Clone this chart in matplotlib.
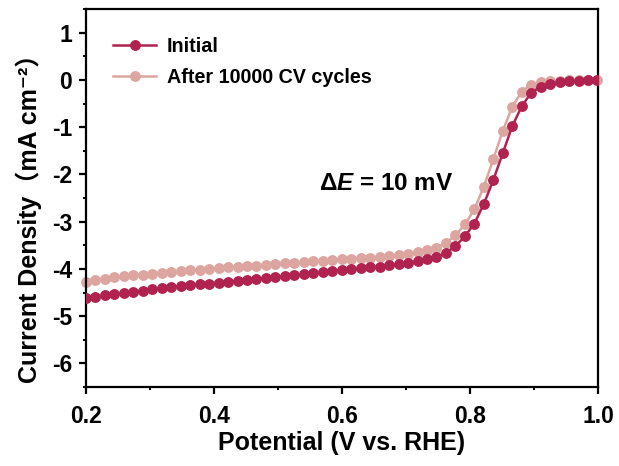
import matplotlib
matplotlib.use("Agg")
import matplotlib.pyplot as plt
from matplotlib.ticker import MultipleLocator

plt.rcParams['font.family'] = ['Liberation Sans', 'Noto Sans CJK SC', 'DejaVu Sans']
plt.rcParams['font.weight'] = 'bold'
plt.rcParams['mathtext.fontset'] = 'custom'
plt.rcParams['mathtext.rm'] = 'Liberation Sans:bold'
plt.rcParams['mathtext.it'] = 'Liberation Sans:bold:italic'
plt.rcParams['mathtext.bf'] = 'Liberation Sans:bold'

potential = [0.2000, 0.2148, 0.2296, 0.2444, 0.2592, 0.2740, 0.2888, 0.3036, 0.3184, 0.3332,
             0.3480, 0.3628, 0.3776, 0.3924, 0.4072, 0.4220, 0.4368, 0.4516, 0.4664, 0.4812,
             0.4960, 0.5108, 0.5256, 0.5404, 0.5552, 0.5700, 0.5848, 0.5996, 0.6144, 0.6292,
             0.6440, 0.6588, 0.6736, 0.6884, 0.7032, 0.7180, 0.7328, 0.7476, 0.7624, 0.7772,
             0.7920, 0.8068, 0.8216, 0.8364, 0.8512, 0.8660, 0.8808, 0.8956, 0.9104, 0.9252,
             0.9400, 0.9548, 0.9696, 0.9844, 0.9992]

initial = [-4.62, -4.59, -4.56, -4.53, -4.51, -4.48, -4.46, -4.43, -4.41, -4.39,
           -4.37, -4.35, -4.33, -4.31, -4.29, -4.27, -4.25, -4.23, -4.21, -4.19,
           -4.17, -4.15, -4.13, -4.11, -4.09, -4.07, -4.05, -4.03, -4.01, -3.99,
           -3.97, -3.95, -3.92, -3.90, -3.87, -3.84, -3.80, -3.74, -3.66, -3.52,
           -3.31, -3.04, -2.63, -2.12, -1.55, -0.98, -0.56, -0.27, -0.15, -0.09,
           -0.05, -0.03, -0.02, -0.01, 0.00]

after = [-4.28, -4.24, -4.21, -4.18, -4.16, -4.14, -4.12, -4.10, -4.08, -4.06,
         -4.05, -4.03, -4.02, -4.00, -3.99, -3.97, -3.96, -3.94, -3.93, -3.91,
         -3.90, -3.88, -3.87, -3.86, -3.84, -3.83, -3.81, -3.80, -3.79, -3.77,
         -3.76, -3.74, -3.72, -3.70, -3.68, -3.65, -3.61, -3.55, -3.45, -3.29,
         -3.06, -2.74, -2.26, -1.68, -1.08, -0.57, -0.25, -0.10, -0.05, -0.03,
         -0.02, -0.01, 0.00, 0.00, 0.00]

labels = ["Initial", "After 10000 CV cycles"]
colors = ["#B0224F", "#DCA5A0"]
xticks = [0.2, 0.4, 0.6, 0.8, 1.0]
xticklabels = ["0.2", "0.4", "0.6", "0.8", "1.0"]
yticks = [1, 0, -1, -2, -3, -4, -5, -6]
yticklabels = ["1", "0", "-1", "-2", "-3", "-4", "-5", "-6"]

fig = plt.figure(figsize=(6.19, 4.66), dpi=100)
ax = fig.add_axes([86/619, 79/466, (598-86)/619, (387-9)/466])

ax.plot(potential, initial, '-o', color=colors[0], lw=1.8, ms=6.8, label=labels[0], zorder=3)
ax.plot(potential, after, '-o', color=colors[1], lw=1.8, ms=6.8, label=labels[1], clip_on=False, zorder=2)

ax.set_xlim(0.2, 1.0)
ax.set_ylim(-6.5, 1.5)
ax.xaxis.set_minor_locator(MultipleLocator(0.1))
ax.yaxis.set_minor_locator(MultipleLocator(0.5))
ax.set_xticks(xticks)
ax.set_xticklabels(xticklabels)
ax.set_yticks(yticks)
ax.set_yticklabels(yticklabels)

for s in ax.spines.values():
    s.set_linewidth(1.6)
ax.tick_params(which='major', direction='out', length=5, width=1.6, labelsize=16.5)
ax.tick_params(axis='x', which='major', pad=8)
ax.tick_params(axis='y', which='major', pad=5)
ax.tick_params(which='minor', direction='out', length=2.5, width=1.4)
for lab in ax.get_xticklabels() + ax.get_yticklabels():
    lab.set_fontweight('bold')

ax.set_xlabel("Potential (V vs. RHE)", fontsize=18, fontweight='bold', labelpad=2)
ax.set_ylabel("Current Density（mA cm⁻²）", fontsize=18, fontweight='bold',
              family=['Liberation Sans', 'Noto Sans CJK SC', 'DejaVu Sans'])
ax.yaxis.set_label_coords(-0.086, 0.463)

ax.text(0.564, -2.2, r"$\Delta\mathit{E}$ = 10 mV", fontsize=17.5, fontweight='bold', va='center', ha='left')

leg = ax.legend(loc='upper left', bbox_to_anchor=(0.037, 0.948), frameon=False,
                prop={'weight': 'bold', 'size': 14.2}, handlelength=2.2,
                handletextpad=0.55, labelspacing=0.65, borderaxespad=0.0)

fig.savefig("out.png", dpi=100)
